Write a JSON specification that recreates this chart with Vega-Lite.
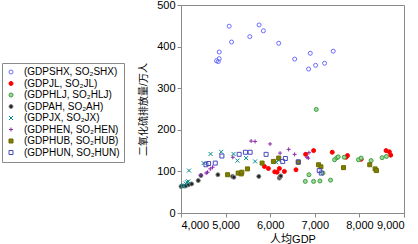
{
  "$schema": "https://vega.github.io/schema/vega-lite/v6.json",
  "width": 223,
  "height": 208,
  "autosize": {"type": "none"},
  "padding": {"left": 181, "top": 5, "right": 14, "bottom": 31},
  "background": "white",
  "config": {
    "font": "Liberation Sans, Noto Sans CJK SC",
    "view": {"stroke": "#8a8a8a", "strokeWidth": 1},
    "legend": {
      "title": null, "orient": "none", "legendX": -179, "legendY": 58,
      "strokeColor": "#8a8a8a", "fillColor": "white", "padding": 4,
      "labelFontSize": 10, "labelColor": "black", "symbolStrokeWidth": 1,
      "rowPadding": 1.5, "labelOffset": 8
    }
  },
  "data": {"values": [
    {"s":"SHX","x":4797,"y":366},{"s":"SHX","x":4835,"y":364},{"s":"SHX","x":4857,"y":371},{"s":"SHX","x":4857,"y":387},{"s":"SHX","x":5080,"y":449},{"s":"SHX","x":5133,"y":411},{"s":"SHX","x":5542,"y":424},{"s":"SHX","x":5751,"y":452},{"s":"SHX","x":5848,"y":438},{"s":"SHX","x":6191,"y":408},{"s":"SHX","x":6548,"y":370},{"s":"SHX","x":6899,"y":384},{"s":"SHX","x":6861,"y":346},{"s":"SHX","x":7018,"y":355},{"s":"SHX","x":7219,"y":360},{"s":"SHX","x":7413,"y":389},
    {"s":"JL","x":5870,"y":112},{"s":"JL","x":5960,"y":107},{"s":"JL","x":6101,"y":99},{"s":"JL","x":6154,"y":98},{"s":"JL","x":6206,"y":107},{"s":"JL","x":6318,"y":100},{"s":"JL","x":6578,"y":104},{"s":"JL","x":6794,"y":141},{"s":"JL","x":6973,"y":150},{"s":"JL","x":7391,"y":146},{"s":"JL","x":7733,"y":138},{"s":"JL","x":7700,"y":134},{"s":"JL","x":8039,"y":129},{"s":"JL","x":8598,"y":150},{"s":"JL","x":8672,"y":147},{"s":"JL","x":8702,"y":139},
    {"s":"HLJ","x":6787,"y":76},{"s":"HLJ","x":6869,"y":92},{"s":"HLJ","x":6973,"y":76},{"s":"HLJ","x":7115,"y":77},{"s":"HLJ","x":7182,"y":96},{"s":"HLJ","x":7353,"y":79},{"s":"HLJ","x":7033,"y":249},{"s":"HLJ","x":7443,"y":128},{"s":"HLJ","x":7495,"y":133},{"s":"HLJ","x":7525,"y":135},{"s":"HLJ","x":7659,"y":134},{"s":"HLJ","x":7979,"y":128},{"s":"HLJ","x":8039,"y":132},{"s":"HLJ","x":8263,"y":126},{"s":"HLJ","x":8509,"y":133},{"s":"HLJ","x":8606,"y":136},
    {"s":"AH","x":4000,"y":64},{"s":"AH","x":4045,"y":65},{"s":"AH","x":4105,"y":65},{"s":"AH","x":4170,"y":68},{"s":"AH","x":4238,"y":70},{"s":"AH","x":4387,"y":78},{"s":"AH","x":4447,"y":90},{"s":"AH","x":4827,"y":92},{"s":"AH","x":5155,"y":88},{"s":"AH","x":5185,"y":86},{"s":"AH","x":5744,"y":88},{"s":"AH","x":6206,"y":84},{"s":"AH","x":6221,"y":87},{"s":"AH","x":6236,"y":89},
    {"s":"JX","x":4030,"y":64},{"s":"JX","x":4060,"y":66},{"s":"JX","x":4105,"y":71},{"s":"JX","x":4135,"y":74},{"s":"JX","x":4165,"y":76},{"s":"JX","x":4179,"y":102},{"s":"JX","x":4507,"y":120},{"s":"JX","x":4663,"y":142},{"s":"JX","x":4902,"y":147},{"s":"JX","x":5177,"y":142},{"s":"JX","x":5266,"y":126},{"s":"JX","x":5460,"y":132},{"s":"JX","x":5661,"y":124},{"s":"JX","x":6131,"y":122},{"s":"JX","x":6190,"y":127},
    {"s":"HEN","x":4447,"y":91},{"s":"HEN","x":4566,"y":96},{"s":"HEN","x":4596,"y":98},{"s":"HEN","x":4656,"y":106},{"s":"HEN","x":4708,"y":110},{"s":"HEN","x":5162,"y":134},{"s":"HEN","x":5572,"y":173},{"s":"HEN","x":5661,"y":172},{"s":"HEN","x":5997,"y":166},{"s":"HEN","x":6221,"y":144},{"s":"HEN","x":6414,"y":153},{"s":"HEN","x":6548,"y":141},{"s":"HEN","x":6825,"y":134},{"s":"HEN","x":6854,"y":132},{"s":"HEN","x":6869,"y":145},
    {"s":"HUB","x":5045,"y":92},{"s":"HUB","x":5282,"y":96},{"s":"HUB","x":5350,"y":94},{"s":"HUB","x":5364,"y":98},{"s":"HUB","x":5490,"y":106},{"s":"HUB","x":5818,"y":120},{"s":"HUB","x":6072,"y":124},{"s":"HUB","x":6191,"y":132},{"s":"HUB","x":6630,"y":122},{"s":"HUB","x":7085,"y":116},{"s":"HUB","x":7137,"y":111},{"s":"HUB","x":7644,"y":109},{"s":"HUB","x":8232,"y":116},{"s":"HUB","x":8352,"y":106},{"s":"HUB","x":8382,"y":102},
    {"s":"HUN","x":4559,"y":116},{"s":"HUN","x":4618,"y":119},{"s":"HUN","x":4768,"y":120},{"s":"HUN","x":4917,"y":137},{"s":"HUN","x":5304,"y":141},{"s":"HUN","x":5445,"y":146},{"s":"HUN","x":5550,"y":146},{"s":"HUN","x":5908,"y":141},{"s":"HUN","x":6280,"y":124},{"s":"HUN","x":6340,"y":131},{"s":"HUN","x":6630,"y":123},{"s":"HUN","x":7100,"y":102},{"s":"HUN","x":7145,"y":96}
  ]},
  "mark": {"type": "point", "strokeWidth": 1, "opacity": 1},
  "encoding": {
    "x": {
      "field": "x", "type": "quantitative",
      "scale": {"domain": [4000, 9000], "nice": false, "zero": false},
      "axis": {
        "title": "人均GDP", "values": [4000, 5000, 6000, 7000, 8000, 9000], "format": ",d",
        "grid": false, "domainColor": "#8a8a8a", "tickColor": "#8a8a8a", "tickSize": 4,
        "labelFontSize": 11, "labelColor": "black", "labelPadding": 2,
        "titleFontSize": 11, "titleFontWeight": "normal", "titleColor": "black", "titlePadding": 3
      }
    },
    "y": {
      "field": "y", "type": "quantitative",
      "scale": {"domain": [0, 500], "nice": false},
      "axis": {
        "title": "二氧化硫排放量/万人", "values": [0, 100, 200, 300, 400, 500],
        "grid": false, "domainColor": "#8a8a8a", "tickColor": "#8a8a8a", "tickSize": 4,
        "labelFontSize": 11, "labelColor": "black", "labelPadding": 2,
        "titleFontSize": 10, "titleFontWeight": "normal", "titleColor": "black", "titlePadding": 8
      }
    },
    "shape": {
      "field": "s", "type": "nominal",
      "scale": {
        "domain": ["SHX", "JL", "HLJ", "AH", "JX", "HEN", "HUB", "HUN"],
        "range": ["circle", "circle", "circle", "circle", "M-1,-1L1,1M-1,1L1,-1", "M-1,0L1,0M0,-1L0,1", "square", "square"]
      },
      "legend": {
        "labelExpr": "'(GDP' + datum.label + ', SO₂' + datum.label + ')'"
      }
    },
    "fill": {
      "field": "s", "type": "nominal",
      "scale": {
        "domain": ["SHX", "JL", "HLJ", "AH", "JX", "HEN", "HUB", "HUN"],
        "range": ["transparent", "#ff0000", "#9ad89a", "#222222", "transparent", "transparent", "#808000", "transparent"]
      },
      "legend": {
        "labelExpr": "'(GDP' + datum.label + ', SO₂' + datum.label + ')'"
      }
    },
    "stroke": {
      "field": "s", "type": "nominal",
      "scale": {
        "domain": ["SHX", "JL", "HLJ", "AH", "JX", "HEN", "HUB", "HUN"],
        "range": ["#6a6aff", "#ff0000", "#3f9f3f", "#808080", "#008b8b", "#8a2aa8", "#6b6b00", "#4848c0"]
      },
      "legend": {
        "labelExpr": "'(GDP' + datum.label + ', SO₂' + datum.label + ')'"
      }
    },
    "size": {
      "field": "s", "type": "nominal",
      "scale": {
        "domain": ["SHX", "JL", "HLJ", "AH", "JX", "HEN", "HUB", "HUN"],
        "range": [16, 16, 16, 16, 25, 30, 30, 30]
      },
      "legend": {
        "labelExpr": "'(GDP' + datum.label + ', SO₂' + datum.label + ')'"
      }
    }
  }
}
